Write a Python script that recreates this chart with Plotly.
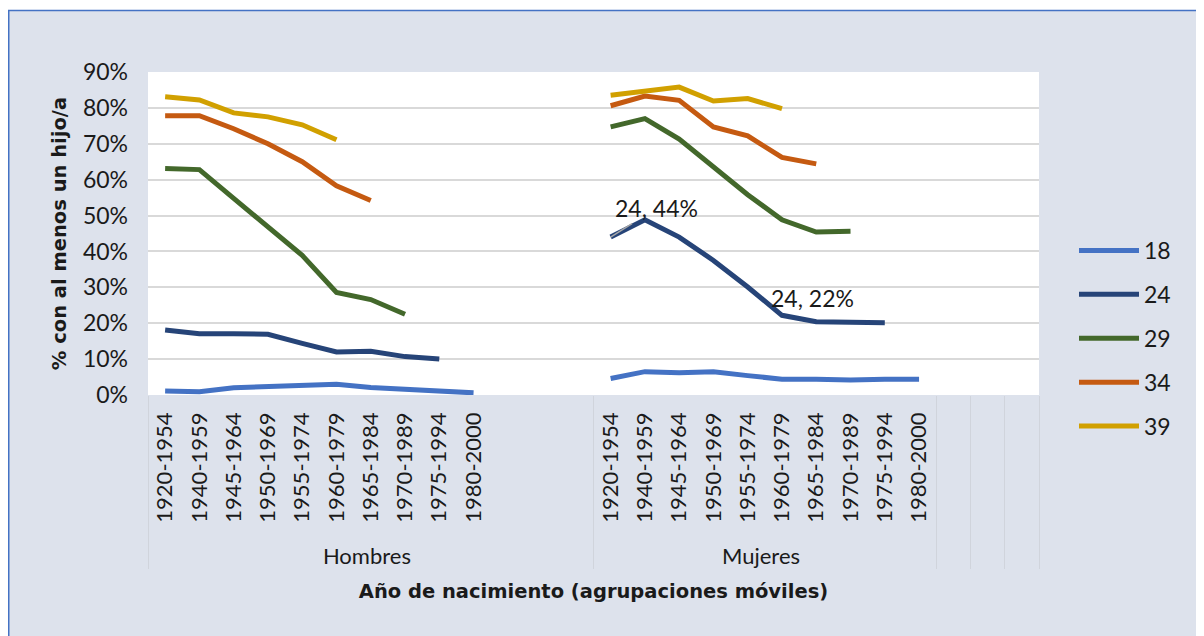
import plotly.graph_objects as go

# ---------------- data ----------------
cohorts = ["1920-1954", "1940-1959", "1945-1964", "1950-1969", "1955-1974",
           "1960-1979", "1965-1984", "1970-1989", "1975-1994", "1980-2000"]
ages = ["18", "24", "29", "34", "39"]

hombres = {
    "18": [0.011, 0.009, 0.020, 0.023, 0.025, 0.030, 0.021, 0.016, 0.012, 0.006],
    "24": [0.181, 0.171, 0.171, 0.169, 0.144, 0.120, 0.122, 0.107, 0.100, None],
    "29": [0.631, 0.628, 0.548, 0.467, 0.389, 0.286, 0.266, 0.225, None, None],
    "34": [0.778, 0.778, 0.742, 0.700, 0.650, 0.583, 0.542, None, None, None],
    "39": [0.831, 0.822, 0.786, 0.775, 0.753, 0.711, None, None, None, None],
}
mujeres = {
    "18": [0.046, 0.065, 0.062, 0.065, 0.054, 0.044, 0.044, 0.042, 0.044, 0.044],
    "24": [0.440, 0.488, 0.440, 0.375, 0.301, 0.222, 0.204, 0.204, 0.201, None],
    "29": [0.747, 0.770, 0.713, 0.634, 0.558, 0.488, 0.454, 0.456, None, None],
    "34": [0.806, 0.833, 0.821, 0.747, 0.722, 0.662, 0.644, None, None, None],
    "39": [0.835, 0.847, 0.858, 0.819, 0.826, 0.798, None, None, None, None],
}
colors = {"18": "#4472C4", "24": "#264478", "29": "#43682B",
          "34": "#C55A11", "39": "#D1A000"}

# ---------------- category axis (two levels, with blank slots) ----------------
PAD = "\u00a0\u00a0"  # keeps the group row a little below the rotated labels
lab = [PAD + c for c in cohorts]
grp = ["Hombres"] * (len(cohorts) + 3) + ["Mujeres"] * len(cohorts) + [" ", "  ", "   "]
cat = lab + [" ", "  ", "   "] + lab + [" ", " ", " "]
ncat = len(cat)

FONT = "Lato, 'Noto Sans', sans-serif"
TFONT = "'DejaVu Sans', Verdana, sans-serif"
TXT = "#1a1a1a"

fig = go.Figure()
for a in ages:
    yv = hombres[a] + [None] * 3 + mujeres[a] + [None] * 3
    fig.add_trace(go.Scatter(
        x=[grp, cat], y=yv, name=a, mode="lines", legendgroup=a,
        line=dict(color=colors[a], width=5), connectgaps=False,
        hovertemplate="%{y:.0%}<extra>" + a + "</extra>"))

# figure geometry (pixels, relative to the figure's top-left corner)
W, H = 1196, 628
L, R, T, B = 140, 165, 64, 241
pw, ph = W - L - R, H - T - B


def px(xp):
    return (xp - L) / pw


def py(yp):
    return (H - B - yp) / ph


shapes = [
    dict(type="rect", xref="paper", yref="paper", x0=px(-5), x1=px(W + 5), y0=py(2), y1=py(-5),
         fillcolor="white", line=dict(width=0), layer="above"),
    dict(type="line", xref="paper", yref="paper", x0=px(0.75), x1=px(0.75), y0=py(2), y1=py(H + 5),
         line=dict(color="#4472C4", width=1.5), layer="above"),
    dict(type="line", xref="paper", yref="paper", x0=px(0), x1=px(W + 5), y0=py(2.5), y1=py(2.5),
         line=dict(color="#4472C4", width=1.5), layer="above"),
]

# data labels (series name, value) on the Mujeres 24 line
i44 = len(cohorts) + 3 + 0
i22 = len(cohorts) + 3 + 5
annotations = [
    dict(x=i44, y=mujeres["24"][0], xref="x", yref="y",
         text="24, " + format(mujeres["24"][0], ".0%"), showarrow=True,
         ax=46, ay=-29, arrowhead=0, arrowwidth=1.5, arrowcolor="#A6A6A6",
         font=dict(family=FONT, size=23, color=TXT)),
    dict(x=i22, y=mujeres["24"][5], xref="x", yref="y",
         text="24, " + format(mujeres["24"][5], ".0%"), showarrow=False,
         xshift=31, yshift=17, font=dict(family=FONT, size=23, color=TXT)),
]

fig.update_layout(
    width=W, height=H,
    margin=dict(l=L, r=R, t=T, b=B, autoexpand=False),
    paper_bgcolor="#DDE2EC", plot_bgcolor="white",
    font=dict(family=FONT, size=23, color=TXT),
    showlegend=True,
    legend=dict(x=px(1066), xanchor="left", y=py(221), yanchor="top",
                bgcolor="rgba(0,0,0,0)", tracegroupgap=11,
                font=dict(family=FONT, size=23, color=TXT), itemwidth=60),
    shapes=shapes, annotations=annotations,
)
fig.update_xaxes(
    type="multicategory", range=[-0.5, ncat - 0.5],
    showgrid=False, showline=False, zeroline=False,
    tickangle=-90, ticks="", ticklabelstandoff=12,
    showdividers=True, dividercolor="#D0D4DC", dividerwidth=1,
    tickfont=dict(family=FONT, size=22, color=TXT),
    title=dict(text="<b>Año de nacimiento (agrupaciones móviles)</b>",
               font=dict(family=TFONT, size=19.5, color=TXT), standoff=16),
)
fig.update_yaxes(
    range=[0, 0.9], dtick=0.1, tickformat=".0%",
    showgrid=True, gridcolor="#D9D9D9", gridwidth=2, zeroline=False, showline=False,
    ticks="", ticklabelstandoff=19,
    tickfont=dict(family=FONT, size=23, color=TXT),
    title=dict(text="<b>% con al menos un hijo/a</b>",
               font=dict(family=TFONT, size=19.5, color=TXT), standoff=11),
)

fig.write_html("out.html")
